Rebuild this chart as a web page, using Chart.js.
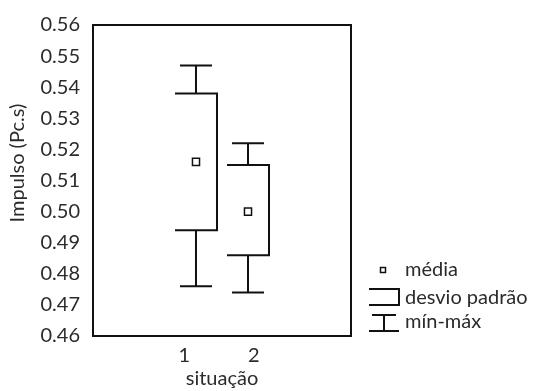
<!DOCTYPE html>
<html>
<head>
<meta charset="utf-8">
<script src="https://cdn.jsdelivr.net/npm/chart.js@4/dist/chart.umd.min.js"></script>
<style>
html,body{margin:0;padding:0;background:#fff;}
#wrap{width:534px;height:391px;}
</style>
</head>
<body>
<div id="wrap"><canvas id="c" width="534" height="391"></canvas></div>
<script>
// situação (x positions) and their tick labels
const categories = [1, 2];
const xLabels = ['1\u2007\u2007', '\u20072'];
// Impulso (Pc.s) statistics per situação
const minValues  = [0.476, 0.474];
const sdLow      = [0.494, 0.486];
const means      = [0.516, 0.500];
const sdHigh     = [0.538, 0.515];
const maxValues  = [0.547, 0.522];
// y axis ticks
const yMin = 0.46, yMax = 0.56, yStep = 0.01;
const legendLabels = ['média', 'desvio padrão', 'mín-máx'];

const FONT = 'Lato, "Open Sans", sans-serif';
const FS = 20;
const INK = '#111';
const TXT = '#2b2b2b';

const boxPlugin = {
  id: 'boxPlugin',
  afterDatasetsDraw(chart) {
    const ctx = chart.ctx, xs = chart.scales.x, ys = chart.scales.y;
    ctx.save();
    ctx.strokeStyle = INK;
    ctx.lineWidth = 2;
    ctx.lineCap = 'butt';
    ctx.lineJoin = 'miter';
    categories.forEach((c, i) => {
      const x = xs.getPixelForValue(c);
      const bw = 21, cw = 16;
      const yt = ys.getPixelForValue(sdHigh[i]);
      const yb = ys.getPixelForValue(sdLow[i]);
      const ymx = ys.getPixelForValue(maxValues[i]);
      const ymn = ys.getPixelForValue(minValues[i]);
      // bracket box (open on left)
      ctx.beginPath();
      ctx.moveTo(x - bw, yt); ctx.lineTo(x + bw, yt); ctx.lineTo(x + bw, yb); ctx.lineTo(x - bw, yb);
      ctx.stroke();
      // whiskers
      ctx.beginPath();
      ctx.moveTo(x, yt); ctx.lineTo(x, ymx);
      ctx.moveTo(x - cw, ymx); ctx.lineTo(x + cw, ymx);
      ctx.moveTo(x, yb); ctx.lineTo(x, ymn);
      ctx.moveTo(x - cw, ymn); ctx.lineTo(x + cw, ymn);
      ctx.stroke();
    });
    // frame
    const a = chart.chartArea;
    ctx.lineWidth = 2;
    ctx.strokeRect(a.left, a.top, a.right - a.left, a.bottom - a.top);
    // legend
    ctx.font = FS + 'px ' + FONT;
    ctx.textBaseline = 'middle';
    ctx.textAlign = 'left';
    const lx = 405, sx0 = 369, sx1 = 399;
    const ly = [270, 298, 322];
    // média symbol
    ctx.lineWidth = 1.5;
    ctx.fillStyle = '#fff';
    ctx.fillRect(380.5, ly[0] - 2.5, 5, 5);
    ctx.strokeRect(380.5, ly[0] - 2.5, 5, 5);
    // desvio symbol
    ctx.lineWidth = 2;
    ctx.beginPath();
    ctx.moveTo(sx0, ly[1] - 9); ctx.lineTo(sx1, ly[1] - 9); ctx.lineTo(sx1, ly[1] + 7); ctx.lineTo(sx0, ly[1] + 7);
    ctx.stroke();
    // min-max symbol
    ctx.beginPath();
    ctx.moveTo(sx0 + 3, ly[2] - 7); ctx.lineTo(sx1 - 3, ly[2] - 7);
    ctx.moveTo(384, ly[2] - 7); ctx.lineTo(384, ly[2] + 9);
    ctx.moveTo(sx0, ly[2] + 9); ctx.lineTo(sx1, ly[2] + 9);
    ctx.stroke();
    ctx.fillStyle = TXT;
    legendLabels.forEach((t, i) => ctx.fillText(t, lx, ly[i]));
    ctx.restore();
  }
};

new Chart(document.getElementById('c'), {
  type: 'scatter',
  data: {
    datasets: [{
      label: 'média',
      data: categories.map((c, i) => ({x: c, y: means[i]})),
      pointStyle: 'rect',
      pointRadius: 5,
      pointHoverRadius: 5,
      backgroundColor: '#fff',
      borderColor: INK,
      borderWidth: 1.5
    }]
  },
  options: {
    responsive: false,
    animation: false,
    events: [],
    layout: {padding: {top: 23, right: 183, left: 0, bottom: 0}},
    plugins: {legend: {display: false}, tooltip: {enabled: false}},
    scales: {
      x: {
        type: 'linear',
        min: -0.98, max: 3.98,
        grid: {display: false, drawTicks: false},
        border: {display: false},
        afterBuildTicks: s => { s.ticks = categories.map(v => ({value: v})); },
        afterFit: s => { s.height = 55; },
        ticks: {
          padding: 8,
          color: TXT,
          font: {family: FONT, size: FS},
          maxRotation: 0,
          callback: v => { const i = categories.indexOf(v); return i >= 0 ? xLabels[i] : ''; }
        },
        title: {display: true, text: 'situação', color: TXT, font: {family: FONT, size: FS}, padding: {top: 3, bottom: 0}}
      },
      y: {
        min: yMin, max: yMax,
        grid: {display: false, drawTicks: false},
        border: {display: false},
        afterFit: s => { s.width = 93; },
        ticks: {
          stepSize: yStep,
          padding: 13,
          color: TXT,
          font: {family: FONT, size: FS},
          callback: v => v.toFixed(2)
        },
        title: {display: true, text: '\u2007\u2007\u2007Impulso (Pc.s)', color: TXT, font: {family: FONT, size: FS}, padding: {top: 6, bottom: 0}}
      }
    }
  },
  plugins: [boxPlugin]
});
</script>
</body>
</html>
